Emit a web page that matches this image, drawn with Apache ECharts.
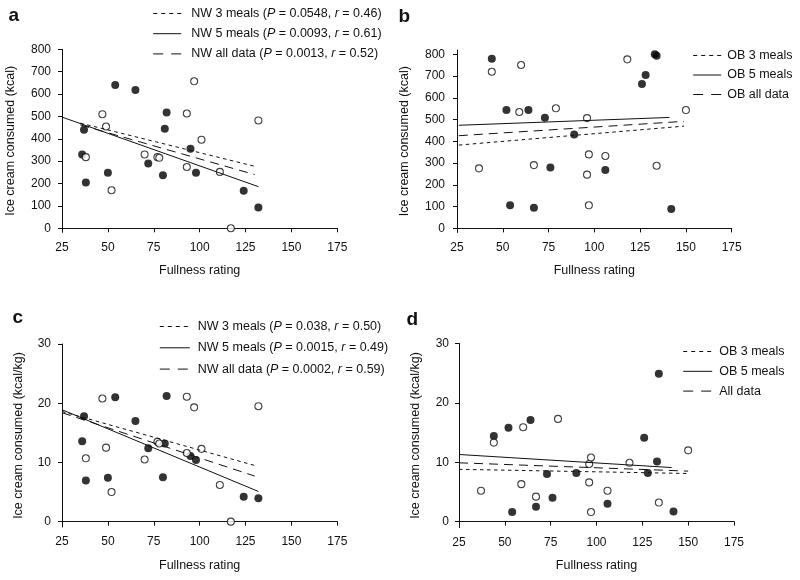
<!DOCTYPE html>
<html><head><meta charset="utf-8">
<script src="https://cdn.jsdelivr.net/npm/echarts@6/dist/echarts.min.js"></script>
<style>html,body{margin:0;padding:0;background:#fff}#c{width:800px;height:580px}</style>
</head><body><div id="c"></div>
<script>
// ---- data ----
const xTickValues = [25, 50, 75, 100, 125, 150, 175];
const kcalTicks = [0, 100, 200, 300, 400, 500, 600, 700, 800];
const kgTicks = [0, 10, 20, 30];

// NW subjects (panels a, c)
const nwFilledX = [54, 65, 82, 81, 37, 36, 38, 50, 72, 80, 95, 98, 124, 132];
const aFilledY  = [640, 618, 518, 445, 440, 330, 205, 248, 290, 237, 355, 248, 168, 93];
const cFilledY  = [21.0, 17.0, 21.2, 13.2, 17.8, 13.6, 6.95, 7.4, 12.4, 7.5, 11.1, 10.4, 4.2, 3.95];
const nwOpenX   = [47, 49, 38, 52, 70, 77, 78, 93, 97, 101, 93, 111, 117, 132];
const aOpenY    = [510, 455, 318, 170, 330, 318, 315, 513, 657, 396, 274, 252, 0, 482];
const cOpenY    = [20.8, 12.5, 10.7, 5.0, 10.5, 13.5, 13.2, 21.1, 19.3, 12.3, 11.6, 6.2, 0, 19.5];

// OB subjects (panels b, d)
const obFilledX = [44, 52, 64, 73, 89, 76, 54, 67, 106, 126, 128, 133, 134, 142];
const bFilledY  = [780, 544, 544, 509, 431, 280, 106, 95, 268, 664, 705, 800, 794, 89];
const dFilledY  = [14.4, 15.8, 17.1, 8.0, 8.2, 4.0, 1.6, 2.5, 3.0, 14.1, 8.2, 10.1, 24.9, 1.7];
const obOpenX   = [44, 60, 59, 79, 96, 37, 67, 97, 106, 96, 97, 118, 134, 150];
const bOpenY    = [720, 751, 535, 552, 507, 276, 291, 340, 333, 247, 106, 777, 288, 544];
const dOpenY    = [13.3, 15.9, 6.3, 17.3, 9.7, 5.2, 4.2, 10.8, 5.2, 6.6, 1.6, 9.9, 3.2, 12.0];

// regression line end points [x, y]
const a3Fit   = [[35, 470], [131, 275]];
const a5Fit   = [[25, 497], [132, 186]];
const aAllFit = [[35, 462], [130, 240]];
const b3Fit   = [[26, 383], [149, 470]];
const b5Fit   = [[26, 474], [141, 510]];
const bAllFit = [[26, 426], [149, 492]];
const c3Fit   = [[25, 18.6], [131, 9.4]];
const c5Fit   = [[25, 18.9], [132, 5.1]];
const cAllFit = [[25, 18.4], [130, 7.7]];
const d3Fit   = [[25, 8.8], [150, 8.1]];
const d5Fit   = [[25, 11.3], [141, 9.1]];
const dAllFit = [[25, 9.9], [150, 8.5]];

const aNames = ['NW 3 meals (P = 0.0548, r = 0.46)', 'NW 5 meals (P = 0.0093, r = 0.61)', 'NW all data (P = 0.0013, r = 0.52)'];
const bNames = ['OB 3 meals', 'OB 5 meals', 'OB all data'];
const cNames = ['NW 3 meals (P = 0.038, r = 0.50)', 'NW 5 meals (P = 0.0015, r = 0.49)', 'NW all data (P = 0.0002, r = 0.59)'];
const dNames = ['OB 3 meals ', 'OB 5 meals ', 'All data'];
const panelLetters = ['a', 'b', 'c', 'd'];

// ---- chart ----
const FONT = "'Liberation Sans', Arial, Helvetica, sans-serif";
const INK = '#111';
const zip = (xs, ys) => xs.map((x, i) => [x, ys[i]]);
const DOT = [3.5, 3.5], DASH = [9, 6];
const LEG_TYPES = [[4, 4], 'solid', [10, 8]];

const grids = [
  {left: 62, top: 49.3, width: 275.3, height: 183},
  {left: 457, top: 50, width: 274.7, height: 182.3},
  {left: 62, top: 344, width: 275.3, height: 183},
  {left: 459, top: 343.5, width: 275, height: 184}
];
const yCfg = [
  {min: -18, max: 800, ticks: kcalTicks, name: 'Ice cream consumed (kcal)', gap: 45, m: 11},
  {min: -18, max: 820, ticks: kcalTicks, name: 'Ice cream consumed (kcal)', gap: 46, m: 12},
  {min: -0.9, max: 30, ticks: kgTicks, name: 'Ice cream consumed (kcal/kg)', gap: 37, m: 11},
  {min: -1.0, max: 30, ticks: kgTicks, name: 'Ice cream consumed (kcal/kg)', gap: 37, m: 10}
];
const axisLine = {show: true, lineStyle: {color: INK, width: 1}};
const axisTick = {show: true, length: 4, lineStyle: {color: INK, width: 1}};
const lbl = {color: INK, fontSize: 12, fontFamily: FONT};

const xAxes = grids.map((g, i) => ({
  type: 'value', gridIndex: i, min: 25, max: 175, interval: 25,
  axisLine, axisTick: Object.assign({customValues: xTickValues}, axisTick),
  axisLabel: Object.assign({margin: 9, customValues: xTickValues}, lbl),
  splitLine: {show: false},
  name: 'Fullness rating', nameLocation: 'middle', nameGap: 32,
  nameTextStyle: {color: INK, fontSize: 12.5, fontFamily: FONT}
}));
const yAxes = yCfg.map((c, i) => ({
  type: 'value', gridIndex: i, min: c.min, max: c.max,
  axisLine, axisTick: Object.assign({customValues: c.ticks}, axisTick),
  axisLabel: Object.assign({margin: c.m, customValues: c.ticks}, lbl),
  splitLine: {show: false},
  name: c.name, nameLocation: 'middle', nameGap: c.gap, nameRotate: 90,
  nameTextStyle: {color: INK, fontSize: 12.5, fontFamily: FONT}
}));

function scatterPair(i, fx, fy, ox, oy) {
  return [
    {type: 'scatter', xAxisIndex: i, yAxisIndex: i, data: zip(fx, fy), symbolSize: 8,
     itemStyle: {color: '#000'}, silent: true, z: 3},
    {type: 'scatter', xAxisIndex: i, yAxisIndex: i, data: zip(ox, oy), symbolSize: 7,
     itemStyle: {color: '#fff', borderColor: INK, borderWidth: 1.1}, silent: true, z: 3}
  ];
}
function fits(i, names, f3, f5, fAll) {
  return [[f3, DOT], [f5, 'solid'], [fAll, DASH]].map((p, k) => ({
    type: 'line', name: names[k], xAxisIndex: i, yAxisIndex: i, data: p[0],
    symbol: 'none', showSymbol: false, silent: true, animation: false, z: 4,
    color: INK, itemStyle: {color: INK},
    lineStyle: {color: INK, width: 1, type: p[1]}
  }));
}

const series = [].concat(
  scatterPair(0, nwFilledX, aFilledY, nwOpenX, aOpenY), fits(0, aNames, a3Fit, a5Fit, aAllFit),
  scatterPair(1, obFilledX, bFilledY, obOpenX, bOpenY), fits(1, bNames, b3Fit, b5Fit, bAllFit),
  scatterPair(2, nwFilledX, cFilledY, nwOpenX, cOpenY), fits(2, cNames, c3Fit, c5Fit, cAllFit),
  scatterPair(3, obFilledX, dFilledY, obOpenX, dOpenY), fits(3, dNames, d3Fit, d5Fit, dAllFit)
);

const legendPos = [
  {names: aNames, left: 152.7, top: 7, gap: 7.2, w: 28, pad: 5},
  {names: bNames, left: 692.7, top: 49, gap: 6.5, w: 28, pad: 1},
  {names: cNames, left: 159.3, top: 320, gap: 8.3, w: 30, pad: 3},
  {names: dNames, left: 682.7, top: 345, gap: 6.8, w: 29, pad: 2}
];
const legends = legendPos.map(l => ({
  data: l.names.map((n, k) => ({name: n, lineStyle: {type: LEG_TYPES[k], width: 1, color: INK}})),
  orient: 'vertical', left: l.left, top: l.top, itemGap: l.gap,
  itemWidth: l.w, itemHeight: 14, selectedMode: false, padding: 0,
  itemStyle: {opacity: 0, borderWidth: 0},
  lineStyle: {width: 1, color: INK, opacity: 1},
  formatter: n => n.trim().replace('(P =', '({i|P} =').replace(', r =', ', {i|r} ='),
  textStyle: {color: INK, fontSize: 12.5, fontFamily: FONT, padding: [0, 0, 0, l.pad],
    rich: {i: {fontStyle: 'italic', fontSize: 12.5, fontFamily: FONT, color: INK}}}
}));

const letterPos = [[8.5, 16], [398.5, 16.5], [12.5, 318], [406.5, 320]];
const graphics = panelLetters.map((t, i) => ({
  type: 'text', x: letterPos[i][0], y: letterPos[i][1],
  style: {text: t, font: "bold 19px " + FONT, fill: INK, textVerticalAlign: 'middle'}
}));

const chart = echarts.init(document.getElementById('c'), null, {renderer: 'canvas'});
chart.setOption({
  backgroundColor: '#fff', animation: false,
  grid: grids, xAxis: xAxes, yAxis: yAxes, series, legend: legends, graphic: graphics
});
</script></body></html>
